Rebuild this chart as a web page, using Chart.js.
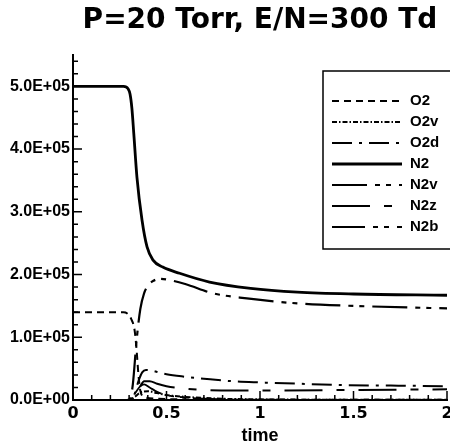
<!DOCTYPE html>
<html>
<head>
<meta charset="utf-8">
<script src="https://cdn.jsdelivr.net/npm/chart.js@4"></script>
<style>
  body { margin: 0; background: #fff; }
  canvas { display: block; }
</style>
</head>
<body>
<canvas id="myChart" width="450" height="444"></canvas>
<script>
// species curves (time, number density)
const tO2  = [0, 0.1, 0.2, 0.27, 0.29, 0.31, 0.33, 0.34, 0.35, 0.36, 0.38, 0.45, 0.6, 1.0, 1.5, 2.0];
const vO2  = [1.4e5, 1.4e5, 1.4e5, 1.4e5, 1.38e5, 1.3e5, 1.1e5, 0.8e5, 0.4e5, 0.15e5, 0.05e5, 0.02e5, 0.01e5, 0.005e5, 0.003e5, 0.002e5];

const tO2v = [0, 0.3, 0.33, 0.36, 0.4, 0.45, 0.5, 0.6, 0.8, 1.0, 1.5, 2.0];
const vO2v = [0, 0, 0.05e5, 0.12e5, 0.14e5, 0.11e5, 0.08e5, 0.05e5, 0.02e5, 0.01e5, 0.004e5, 0.002e5];

const tO2d = [0, 0.3, 0.33, 0.35, 0.37, 0.39, 0.42, 0.46, 0.5, 0.6, 0.7, 0.85, 1.0, 1.2, 1.4, 1.7, 2.0];
const vO2d = [0, 0, 0.1e5, 0.3e5, 0.44e5, 0.48e5, 0.47e5, 0.44e5, 0.41e5, 0.37e5, 0.34e5, 0.30e5, 0.28e5, 0.26e5, 0.24e5, 0.23e5, 0.22e5];

const tN2  = [0, 0.1, 0.2, 0.27, 0.295, 0.305, 0.315, 0.325, 0.342, 0.369, 0.396, 0.428, 0.48, 0.57, 0.73, 0.95, 1.2, 1.5, 2.0];
const vN2  = [5e5, 5e5, 5e5, 5e5, 4.96e5, 4.88e5, 4.65e5, 4.25e5, 3.55e5, 2.87e5, 2.44e5, 2.23e5, 2.12e5, 2.02e5, 1.88e5, 1.78e5, 1.72e5, 1.69e5, 1.67e5];

const tN2v = [0, 0.29, 0.305, 0.32, 0.34, 0.36, 0.38, 0.4, 0.43, 0.465, 0.52, 0.6, 0.75, 0.93, 1.2, 1.5, 2.0];
const vN2v = [0, 0, 0.02e5, 0.25e5, 0.95e5, 1.45e5, 1.7e5, 1.82e5, 1.9e5, 1.93e5, 1.91e5, 1.85e5, 1.70e5, 1.62e5, 1.54e5, 1.50e5, 1.46e5];

const tN2z = [0, 0.3, 0.33, 0.36, 0.38, 0.41, 0.45, 0.5, 0.6, 0.7, 0.85, 1.0, 1.5, 2.0];
const vN2z = [0, 0, 0.08e5, 0.22e5, 0.3e5, 0.3e5, 0.26e5, 0.22e5, 0.18e5, 0.16e5, 0.15e5, 0.15e5, 0.16e5, 0.17e5];

const tN2b = [0, 0.3, 0.33, 0.36, 0.38, 0.41, 0.45, 0.5, 0.6, 0.7, 0.85, 1.0, 1.5, 2.0];
const vN2b = [0, 0, 0.1e5, 0.22e5, 0.25e5, 0.2e5, 0.13e5, 0.08e5, 0.04e5, 0.02e5, 0.008e5, 0.004e5, 0.001e5, 0];

const names = ['O2', 'O2v', 'O2d', 'N2', 'N2v', 'N2z', 'N2b'];
const xLabels = [0, 0.5, 1, 1.5, 2];
const yLabels = [0, 1e5, 2e5, 3e5, 4e5, 5e5];
const xMinorStep = 0.1;
const yMinorStep = 20000;

function pts(t, v) {
    return t.map((x, i) => ({x: x, y: v[i]}));
}

function sci(v) {
    if (v === 0) return '0.0E+00';
    var e = Math.floor(Math.log10(v));
    var m = v / Math.pow(10, e);
    return m.toFixed(1) + 'E+' + String(e).padStart(2, '0');
}

function near(a, b) { return Math.abs(a - b) < 1e-6 * Math.max(1, Math.abs(b)); }

function stepTicks(min, max, step) {
    var out = [];
    for (var i = 0; min + i * step <= max + step * 1e-6; i++) {
        out.push({ value: Math.round((min + i * step) * 1e6) / 1e6 });
    }
    return out;
}

function line(label, data, dash, width) {
    return {
        label: label,
        data: data,
        borderColor: '#000',
        borderWidth: width,
        borderDash: dash,
        pointRadius: 0,
        fill: false,
        cubicInterpolationMode: 'monotone'
    };
}

// legend box drawn inside the plot, top right
const boxLegend = {
    id: 'boxLegend',
    afterDraw(chart) {
        const { ctx, chartArea: {top, right} } = chart;
        const x0 = right - 124, y0 = top + 16;
        ctx.save();
        ctx.fillStyle = '#fff';
        ctx.fillRect(x0, y0, 135, 178);
        ctx.strokeStyle = '#000';
        ctx.lineWidth = 1.5;
        ctx.strokeRect(x0, y0, 135, 178);
        chart.data.datasets.forEach((ds, i) => {
            const y = y0 + 30 + i * 21;
            ctx.setLineDash(ds.borderDash || []);
            ctx.lineWidth = ds.borderWidth;
            ctx.beginPath();
            ctx.moveTo(x0 + 9, y);
            ctx.lineTo(x0 + 79, y);
            ctx.stroke();
            ctx.setLineDash([]);
            ctx.fillStyle = '#000';
            ctx.font = 'bold 15px "Liberation Sans", Arial, sans-serif';
            ctx.textBaseline = 'middle';
            ctx.fillText(ds.label, x0 + 87, y);
        });
        ctx.restore();
    }
};

// tick marks pointing into the plot
const innerTicks = {
    id: 'innerTicks',
    afterDraw(chart) {
        const { ctx, chartArea: {left, bottom}, scales: {x, y} } = chart;
        ctx.save();
        ctx.strokeStyle = '#000';
        ctx.lineWidth = 1.5;
        ctx.beginPath();
        x.ticks.forEach(t => {
            const px = x.getPixelForValue(t.value);
            const len = t.label ? 9 : 5;
            ctx.moveTo(px, bottom);
            ctx.lineTo(px, bottom - len);
        });
        y.ticks.forEach(t => {
            const py = y.getPixelForValue(t.value);
            const len = t.label ? 9 : 5;
            ctx.moveTo(left, py);
            ctx.lineTo(left + len, py);
        });
        ctx.stroke();
        ctx.restore();
    }
};

const data = {
    datasets: [
        line(names[0], pts(tO2, vO2), [7, 5], 2),
        line(names[1], pts(tO2v, vO2v), [5, 2, 1.5, 2], 2),
        line(names[2], pts(tO2d, vO2d), [20, 7, 3, 7], 2),
        line(names[3], pts(tN2, vN2), [], 2.8),
        line(names[4], pts(tN2v, vN2v), [35, 8, 5, 6, 5, 8], 2.2),
        line(names[5], pts(tN2z, vN2z), [38, 14, 8, 14], 2),
        line(names[6], pts(tN2b, vN2b), [33, 8, 5, 6, 5, 8], 1.8)
    ]
};

const config = {
    type: 'line',
    data,
    options: {
        responsive: false,
        animation: false,
        devicePixelRatio: 1,
        layout: { padding: { left: 0, right: 3, top: 0, bottom: 0 } },
        plugins: {
            legend: { display: false },
            tooltip: { enabled: false },
            title: {
                display: true,
                text: 'P=20 Torr, E/N=300 Td',
                fullSize: false,
                color: '#000',
                font: { family: '"DejaVu Sans", sans-serif', weight: 'bold', size: 28 },
                padding: { top: 4, bottom: 17.4 }
            }
        },
        scales: {
            x: {
                type: 'linear',
                min: 0,
                max: 2,
                grid: { display: false, drawTicks: false },
                border: { display: true, color: '#000', width: 2 },
                afterBuildTicks(scale) { scale.ticks = stepTicks(0, 2, xMinorStep); },
                ticks: {
                    autoSkip: false,
                    maxRotation: 0,
                    padding: 4,
                    color: '#000',
                    font: { family: '"DejaVu Sans", sans-serif', weight: 'bold', size: 16 },
                    callback: v => xLabels.some(l => near(v, l)) ? String(v) : ''
                },
                title: {
                    display: true,
                    text: 'time',
                    color: '#000',
                    font: { family: '"Liberation Sans", Arial, sans-serif', weight: 'bold', size: 18 },
                    padding: { top: 0, bottom: -3 }
                },
                afterFit(scale) {
                    scale.height = 44;
                    scale.paddingLeft = 0;
                    scale.paddingRight = 0;
                }
            },
            y: {
                type: 'linear',
                min: 0,
                max: 550000,
                grid: { display: false, drawTicks: false },
                border: { display: true, color: '#000', width: 2 },
                afterBuildTicks(scale) { scale.ticks = stepTicks(0, 540000, yMinorStep); },
                ticks: {
                    autoSkip: false,
                    padding: 3,
                    color: '#000',
                    font: { family: '"Liberation Sans Narrow", "Liberation Sans", Arial, sans-serif', weight: 'bold', size: 16 },
                    callback: v => yLabels.some(l => near(v, l)) ? sci(v) : ''
                },
                afterFit(scale) {
                    scale.width = 73;
                    scale.paddingTop = 0;
                    scale.paddingBottom = 0;
                }
            }
        }
    },
    plugins: [innerTicks, boxLegend]
};

const myChart = new Chart(document.getElementById('myChart'), config);
</script>
</body>
</html>
